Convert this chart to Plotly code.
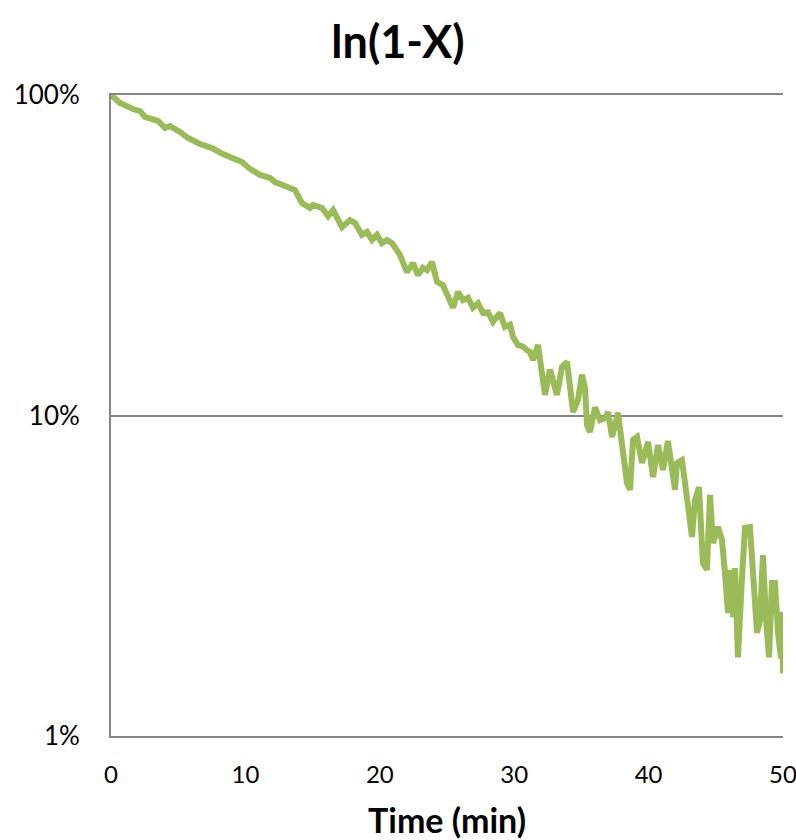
import plotly.graph_objects as go

# time (min) and remaining fraction 1-X (%)
time_min = [
    0, 0.67, 1.64, 2.16, 2.53, 3.50, 4.02, 4.39, 5.13, 5.73,
    6.62, 7.51, 8.33, 9.08, 9.75, 10.34, 11.09, 11.83, 12.20, 13.32,
    13.69, 14.21, 14.81, 15.03, 15.70, 16.15, 16.52, 17.19, 17.78, 18.15,
    18.67, 19.05, 19.42, 19.79, 20.16, 20.54, 20.91, 21.50, 22.02, 22.47,
    22.84, 23.21, 23.51, 23.88, 24.26, 24.70, 25.07, 25.45, 25.82, 26.19,
    26.56, 26.93, 27.31, 27.68, 28.05, 28.42, 28.94, 29.31, 29.69, 29.91,
    30.28, 30.65, 30.95, 31.17, 31.40, 31.77, 32.29, 32.66, 33.18, 33.56,
    33.93, 34.38, 34.75, 35.04, 35.27, 35.42, 35.64, 36.01, 36.38, 36.76,
    36.98, 37.28, 37.72, 38.02, 38.39, 38.62, 38.84, 39.14, 39.51, 39.96,
    40.33, 40.70, 41.07, 41.44, 41.74, 41.96, 42.11, 42.48, 42.71, 42.93,
    43.23, 43.45, 43.75, 44.04, 44.34, 44.57, 44.79, 45.16, 45.46, 45.68,
    45.91, 46.05, 46.28, 46.43, 46.65, 46.95, 47.17, 47.54, 47.77, 48.07,
    48.29, 48.51, 48.74, 48.96, 49.18, 49.40, 49.63, 49.85, 49.95, 50.0,
]
remaining_pct = [
    100, 94.4, 90.4, 89.1, 85.4, 83.0, 78.9, 80.0, 76.7, 73.4,
    70.3, 68.3, 65.4, 63.6, 61.8, 58.8, 56.3, 55.1, 53.5, 51.3,
    50.5, 46.0, 44.4, 45.4, 44.4, 41.9, 43.8, 38.7, 40.7, 39.9,
    36.6, 37.4, 35.3, 36.6, 34.5, 35.3, 34.5, 31.7, 28.0, 29.9,
    27.4, 28.9, 28.4, 30.1, 26.1, 25.5, 23.8, 21.7, 24.3, 22.9,
    23.3, 21.7, 22.4, 20.9, 21.0, 19.6, 20.9, 18.9, 19.2, 17.6,
    16.6, 16.4, 16.0, 15.8, 14.9, 16.6, 11.6, 13.9, 11.6, 14.2,
    14.7, 10.25, 11.2, 13.4, 12.2, 9.34, 8.88, 10.6, 9.68, 9.82,
    10.25, 8.57, 10.2, 8.39, 6.16, 5.86, 8.39, 8.57, 7.11, 8.27,
    6.43, 8.09, 6.76, 8.33, 6.43, 5.86, 7.11, 7.26, 6.16, 5.18,
    4.18, 5.45, 5.98, 3.47, 3.30, 5.65, 4.00, 4.49, 4.09, 3.23,
    2.42, 3.30, 2.35, 3.34, 1.76, 3.13, 4.46, 4.49, 3.37, 2.10,
    2.30, 3.67, 2.30, 1.76, 3.00, 3.00, 2.10, 1.75, 2.44, 1.57,
]

y_tick_vals = [1, 10, 100]
y_tick_text = ["1%", "10%", "100%"]
x_tick_vals = [0, 10, 20, 30, 40, 50]

FONT = "Lato, Open Sans, sans-serif"
GRID = "#868686"

fig = go.Figure()
fig.add_trace(go.Scatter(
    x=time_min, y=remaining_pct, mode="lines",
    line=dict(color="#9BBB59", width=6),
    showlegend=False, cliponaxis=False,
))

fig.update_layout(
    width=796, height=840,
    paper_bgcolor="white", plot_bgcolor="white",
    margin=dict(l=111, r=13, t=95, b=104),
    title=dict(
        text="<b>ln(1-X)</b>", x=0.5, xanchor="center",
        y=1 - 42 / 840, yanchor="middle", yref="container",
        font=dict(family=FONT, size=45, color="black"),
    ),
    font=dict(family=FONT, color="black"),
)
# x-axis title as an annotation so it can sit lower than the margin allows
fig.add_annotation(
    text="<b>Time (min)</b>", xref="paper", yref="paper", x=0.5, y=0,
    xanchor="center", yanchor="middle", yshift=-83, showarrow=False,
    font=dict(family=FONT, size=34, color="black"),
)
fig.update_xaxes(
    range=[0, 50], tickvals=x_tick_vals, showgrid=False,
    showline=True, linecolor=GRID, linewidth=2, mirror=True,
    ticks="", ticklabelstandoff=16, tickfont=dict(size=24),
    ticklabeloverflow="allow", automargin=False, zeroline=False,
)
fig.update_yaxes(
    type="log", range=[0, 2], tickvals=y_tick_vals, ticktext=y_tick_text,
    showgrid=True, gridcolor=GRID, gridwidth=2,
    showline=True, linecolor=GRID, linewidth=2,
    ticks="", ticklabelstandoff=24, tickfont=dict(size=26),
    automargin=False, zeroline=False,
)

# drop the default 8px page margin so the figure fills the window
fig.write_html(
    "out.html",
    config={"displayModeBar": False},
    post_script="document.body.style.margin='0';",
)
